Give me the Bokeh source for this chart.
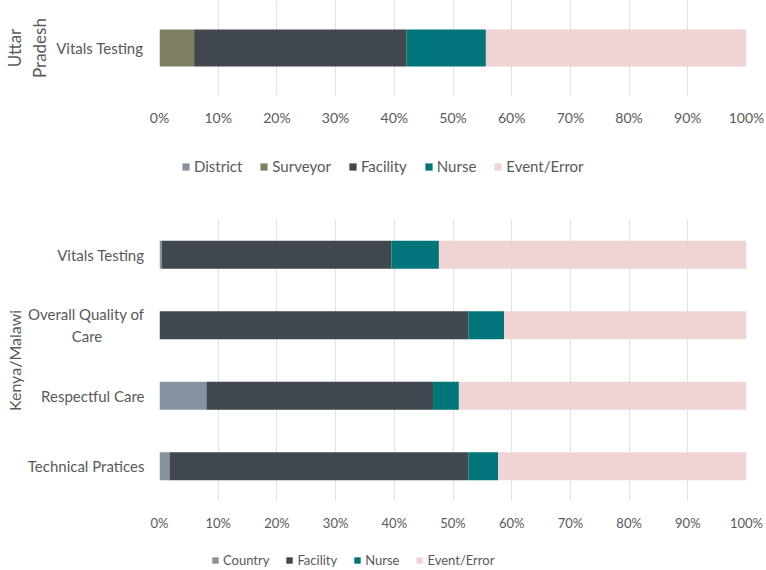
from bokeh.plotting import figure
from bokeh.models import (FactorRange, Range1d, FixedTicker, PrintfTickFormatter,
                          Legend, LegendItem, ColumnDataSource, CategoricalAxis)
from bokeh.layouts import column
from bokeh.embed import file_html
from bokeh.resources import INLINE

FONT = "Lato"
TEXT = "#595959"
GRID = "#E2E2E2"
W = 766

# ---- data ----
x_ticks = [0, 10, 20, 30, 40, 50, 60, 70, 80, 90, 100]

up_title_lines = ["Uttar", "Pradesh"]
up_categories = ["Vitals Testing"]
up_names = ["District", "Surveyor", "Facility", "Nurse", "Event/Error"]
up_district = [0.0]
up_surveyor = [5.9]
up_facility = [36.2]
up_nurse = [13.5]
up_event = [44.4]

km_title = "Kenya/Malawi"
km_categories = ["Vitals Testing",
                 "Overall Quality of\nCare" + "\u00a0" * 11,
                 "Respectful Care",
                 "Technical Pratices"]
km_names = ["Country", "Facility", "Nurse", "Event/Error"]
km_country = [0.4, 0.0, 8.0, 1.7]
km_facility = [39.1, 52.6, 38.6, 50.9]
km_nurse = [8.1, 6.1, 4.4, 5.1]
km_event = [52.4, 41.3, 49.0, 42.3]

up_colors = ["#8593A0", "#7F7F62", "#41474F", "#00767B", "#F0D4D4"]
km_colors = ["#8593A0", "#41474F", "#00767B", "#F0D4D4"]


def style_title(ax, text, standoff, size):
    ax.axis_label = text
    ax.axis_label_standoff = standoff
    ax.axis_label_text_font = FONT
    ax.axis_label_text_font_size = size
    ax.axis_label_text_font_style = "normal"
    ax.axis_label_text_color = TEXT


def build(cats, values, colors, height, border_top, frame_h, bar_h, ystandoff, xsize):
    border_bottom = height - border_top - frame_h
    p = figure(width=W, height=height,
               y_range=FactorRange(factors=list(reversed(cats))),
               x_range=Range1d(0, 100),
               output_backend="svg", toolbar_location=None,
               min_border_left=158, min_border_right=20,
               min_border_top=border_top, min_border_bottom=border_bottom)
    keys = ["s%d" % i for i in range(len(values))]
    data = {"cat": cats}
    for k, v in zip(keys, values):
        data[k] = v
    src = ColumnDataSource(data)
    p.hbar_stack(keys, y="cat", height=bar_h, fill_color=colors,
                 line_color=None, source=src)

    p.outline_line_color = None
    p.ygrid.grid_line_color = None
    p.xgrid.grid_line_color = GRID

    p.xaxis.ticker = FixedTicker(ticks=x_ticks)
    p.xaxis.formatter = PrintfTickFormatter(format="%d%%")
    for ax in (p.xaxis[0], p.yaxis[0]):
        ax.axis_line_color = None
        ax.major_tick_line_color = None
        ax.minor_tick_line_color = None
        ax.major_tick_out = 0
        ax.major_tick_in = 0
        ax.major_label_text_font = FONT
        ax.major_label_text_color = TEXT
    p.xaxis[0].major_label_text_font_size = xsize
    p.yaxis[0].major_label_text_font_size = "15px"
    p.xaxis[0].major_label_standoff = 13
    p.yaxis[0].major_label_standoff = ystandoff
    return p


def outer_title_axis(p, text, standoff, size):
    ax = CategoricalAxis(axis_line_color=None, major_tick_line_color=None,
                         minor_tick_line_color=None, major_tick_out=0, major_tick_in=0,
                         major_label_text_font_size="0px", major_label_standoff=0)
    style_title(ax, text, standoff, size)
    p.add_layout(ax, "left")


def legend_fig(names, colors, height, x, y, spacing, size, glyph):
    f = figure(width=W, height=height, x_range=Range1d(0, 1), y_range=Range1d(0, 1),
               output_backend="svg", toolbar_location=None, min_border=0)
    f.axis.visible = False
    f.grid.visible = False
    f.outline_line_color = None
    items = []
    for n, c in zip(names, colors):
        r = f.hbar(y=[0], left=[0], right=[0], height=0.5, fill_color=c, line_color=None)
        items.append(LegendItem(label=n, renderers=[r]))
    lg = Legend(items=items, orientation="horizontal", location=(x, y),
                border_line_color=None, background_fill_alpha=0,
                padding=0, margin=0, spacing=spacing,
                glyph_width=glyph, glyph_height=glyph, label_standoff=4, label_height=18,
                label_text_font=FONT, label_text_font_size=size,
                label_text_color=TEXT)
    f.add_layout(lg)
    return f


p1 = build(up_categories, [up_district, up_surveyor, up_facility, up_nurse, up_event],
           up_colors, height=140, border_top=0, frame_h=95, bar_h=0.39,
           ystandoff=16, xsize="14px")
style_title(p1.yaxis[0], up_title_lines[1], 3, "17px")
outer_title_axis(p1, up_title_lines[0], 2, "17px")
l1 = legend_fig(up_names, up_colors, height=50, x=22, y=15, spacing=17,
                size="15px", glyph=9)

p2 = build(km_categories, [km_country, km_facility, km_nurse, km_event],
           km_colors, height=356, border_top=29, frame_h=282, bar_h=0.4,
           ystandoff=15, xsize="13px")
style_title(p2.yaxis[0], km_title, 1, "16px")
l2 = legend_fig(km_names, km_colors, height=24, x=52, y=1, spacing=16,
                size="13px", glyph=8)

layout = column(p1, l1, p2, l2)
open("out.html", "w").write(file_html(layout, INLINE))
